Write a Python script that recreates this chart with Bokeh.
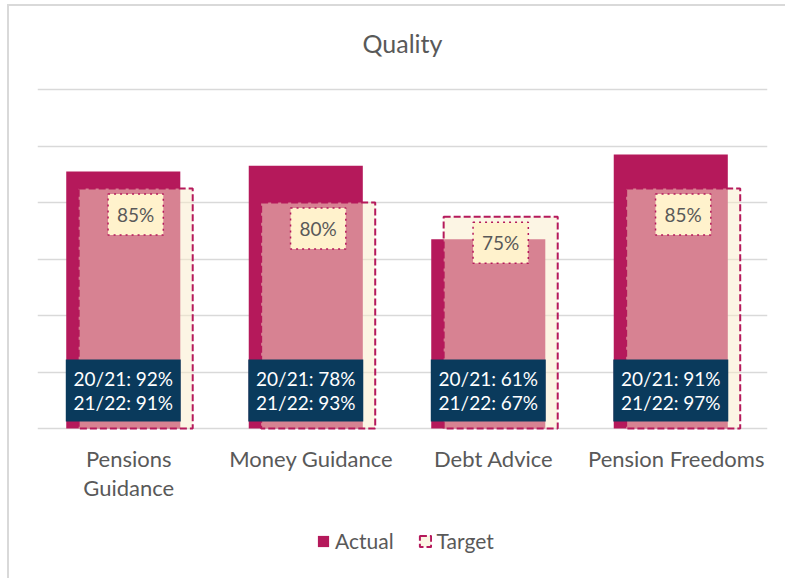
from bokeh.plotting import figure
from bokeh.models import FactorRange, Range1d, ColumnDataSource, Legend, LegendItem, FixedTicker
from bokeh.transform import dodge
from bokeh.core.properties import value
from bokeh.embed import file_html
from bokeh.resources import INLINE

# ---- data ----
title_text = "Quality"
categories = ["Pensions\nGuidance", "Money Guidance", "Debt Advice", "Pension Freedoms"]
actual_2122 = [91, 93, 67, 97]
prior_2021 = [92, 78, 61, 91]
target = [85, 80, 75, 85]
y_ticks = [0, 20, 40, 60, 80, 100, 120]

CRIMSON = "#B5195B"
CREAM = "#F9EBC9"
NAVY = "#0A3A5C"
GRAY = "#595959"
FONT = "Lato"

src = ColumnDataSource(dict(
    cat=categories,
    actual=actual_2122,
    prior=prior_2021,
    target=target,
    target_lbl=[f"{t}%" for t in target],
    box_lbl=[f"20/21: {a}%\n21/22: {b}%" for a, b in zip(prior_2021, actual_2122)],
))

p = figure(
    x_range=FactorRange(*categories), y_range=Range1d(-53.8, 149.4),
    width=778, height=574, output_backend="svg", toolbar_location=None,
    min_border_left=28, min_border_right=20, min_border_top=0, min_border_bottom=0,
)
p.margin = (4, 0, 0, 7)
p.styles = {"border-left": "2px solid #D9D9D9", "border-top": "2px solid #D9D9D9"}
p.outline_line_color = None
p.background_fill_color = "white"
p.border_fill_color = "white"

# axes / grid
p.yaxis.visible = False
p.xaxis.visible = False
p.ygrid.ticker = FixedTicker(ticks=y_ticks)
p.ygrid.grid_line_color = "#D9D9D9"
p.ygrid.grid_line_width = 1.5
p.xgrid.visible = False

# chart title (centred over the plot area)
p.text(x=[2.0], y=[136.6], text=[title_text], text_align="center", text_baseline="middle",
       text_color=GRAY, text_font=value(FONT), text_font_size="25px")

# category labels under the bars
p.text(x="cat", y=-5.7, text="cat", source=src, text_align="center", text_baseline="top",
       text_color=GRAY, text_font=value(FONT), text_font_size="22px", text_line_height=1.08)

W = 0.625
xa = dodge("cat", -0.03, range=p.x_range)
xt = dodge("cat", 0.038, range=p.x_range)

r_act = p.vbar(x=xa, top="actual", width=W, source=src, fill_color=CRIMSON, line_color=None)
r_tgt = p.vbar(x=xt, top="target", width=W, source=src, fill_color=CREAM, fill_alpha=0.5,
               line_color=CRIMSON, line_width=2, line_dash="7 3")

# target labels
p.text(x=xt, y="target", y_offset=26, text="target_lbl", source=src,
       text_align="center", text_baseline="middle", text_color=GRAY,
       text_font=value(FONT), text_font_size="19px",
       background_fill_color="#FFF2CC", border_line_color=CRIMSON,
       border_line_dash="dotted", border_line_width=1.5, padding=(9, 9))

# navy boxes with history
p.rect(x=xa, y=13.5, width=0.63, height=62, height_units="screen", source=src,
       fill_color=NAVY, line_color=None)
p.text(x=xa, y=13.5, text="box_lbl", source=src, text_align="center", text_baseline="middle",
       text_color="white", text_font=value(FONT), text_font_size="19px", text_line_height=1.05)

legend = Legend(items=[LegendItem(label="Actual", renderers=[r_act]),
                       LegendItem(label="Target", renderers=[r_tgt])],
                orientation="horizontal", location=(279, 27))
legend.glyph_width = 14
legend.glyph_height = 14
legend.label_text_font = FONT
legend.label_text_font_size = "21px"
legend.label_text_color = GRAY
legend.label_standoff = 5
legend.spacing = 24
legend.padding = 0
legend.margin = 0
legend.border_line_color = None
legend.background_fill_alpha = 0
p.add_layout(legend, "center")

open("out.html", "w").write(file_html(p, INLINE))
